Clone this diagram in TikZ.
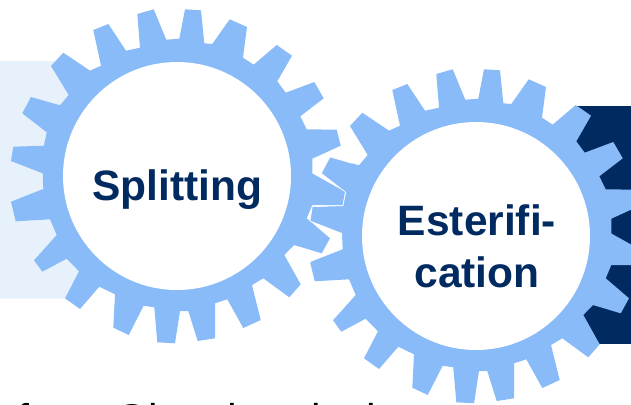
\documentclass[tikz,border=0pt]{standalone}
\usepackage{fontspec}
\setmainfont{Liberation Sans}
\definecolor{gearblue}{HTML}{88BBF8}
\definecolor{navy}{HTML}{002A60}
\definecolor{pale}{HTML}{E6F1FC}
\newcommand{\gearoutline}{(179.3,38.7) -- (185,9.3) -- (201,10.3) -- (204.3,43.3) -- (212.3,44) -- (229.7,19.3) -- (247,27) -- (243,57.7) -- (253.7,64.7) -- (276.7,45) -- (292,55.7) -- (277.3,81.3) -- (285.7,92.7) -- (314.3,82) -- (323.7,98.3) -- (300.3,116.3) -- (306.7,129.3) -- (336.7,129.7) -- (340.7,145.7) -- (312.3,158.7) -- (312.3,173.5) -- (345,191.7) -- (342.7,205) -- (312.3,205) -- (306.7,218.3) -- (330,238.3) -- (321.7,253.3) -- (294,245) -- (284.3,255) -- (300.7,284.3) -- (289.3,297.3) -- (263.3,278.3) -- (252,285) -- (260.7,320) -- (243.3,328) -- (227.3,299.3) -- (215,303.3) -- (215,338.3) -- (197.7,341) -- (188.3,311) -- (180,311) -- (175,343.3) -- (157.3,342.3) -- (154.3,307.3) -- (143.7,305.7) -- (128.7,335) -- (113.3,327.7) -- (115,294.3) -- (99.3,286.7) -- (80,309) -- (65,298.3) -- (79,271.3) -- (66.7,258.7) -- (42.3,271.7) -- (34,260.3) -- (56.7,235) -- (50,219.3) -- (15.7,221.3) -- (11,201.7) -- (43.3,189) -- (42.7,173.3) -- (11,161) -- (13.3,146.7) -- (44,145.7) -- (46.7,132.3) -- (22.3,113.3) -- (31,97) -- (60,105.3) -- (68.7,95) -- (51,66) -- (63.3,52.7) -- (90,70.7) -- (101,65.7) -- (93.3,30) -- (108.3,24) -- (126,50.7) -- (140,47.7) -- (137.3,14) -- (153.7,9.3) -- (166.3,39.7) -- cycle}
\tikzset{x=1pt,y=-1pt,
  gearfill/.style={fill=gearblue},
  hub/.style={fill=white},
  gearlabel/.style={font=\bfseries\fontsize{42.5}{52}\selectfont,text=navy,align=center,inner sep=0pt},
  body/.style={font=\fontsize{43}{50}\selectfont,text=black,inner sep=0pt,anchor=base west}}
\begin{document}
\begin{tikzpicture}
\useasboundingbox (0,0) rectangle (631,404);
\fill[white] (0,0) rectangle (631,404);
\fill[pale] (0,61) -- (70,61) -- (84,298.7) -- (0,298.7) -- cycle;
\fill[navy] (576,105.7) rectangle (631,343.7);
\node[body] (txt) at (17,434) {from Oleochemicals};
\path[gearfill] \gearoutline;
\fill[hub] (177,176) circle[radius=114];
\begin{scope}[shift={(299,60)}]
  \path[gearfill] \gearoutline;
\end{scope}
\begin{scope}
  \clip (300,150) rectangle (352,262);
  \begin{scope}[shift={(299,60)}]
    \draw[white,line width=0.6pt] \gearoutline;
  \end{scope}
\end{scope}
\fill[hub] (476,236) circle[radius=114];
\node[gearlabel] (split) at (177.5,190) {Splitting};
\node[gearlabel] (ester) at (477,246) {Esterifi-\\cation};
\end{tikzpicture}
\end{document}
